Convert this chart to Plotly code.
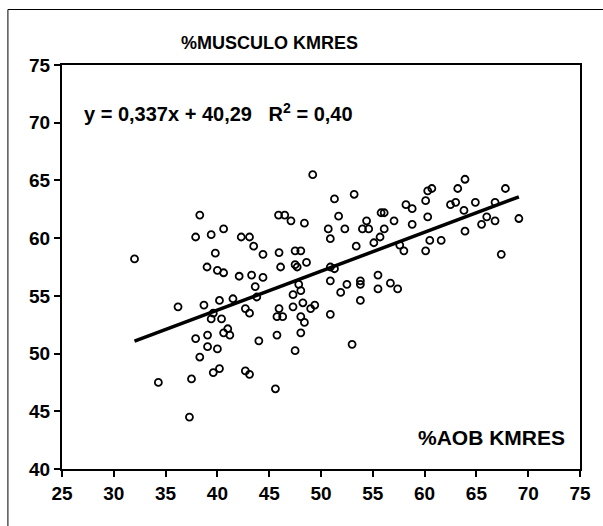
import plotly.graph_objects as go

# Data
aob = [38.3, 45.9, 46.5, 47.1, 40.6, 37.9, 39.4, 42.3, 43.1, 43.5, 44.4, 45.95, 47.5, 32.0, 39.8,
       39.0, 40.0, 40.6, 42.1, 43.3, 44.4, 46.1, 47.5, 49.2, 48.4, 51.3, 53.2, 51.7, 50.7, 52.3,
       50.9, 53.4, 54.4, 54.0, 54.6, 55.8, 56.1, 56.1, 57.05, 55.1, 55.7, 58.2, 58.8, 58.8, 60.1,
       60.3, 60.7, 60.3, 63.2, 63.9, 62.5, 63.0, 64.9, 63.8, 66.8, 67.8, 66.0, 65.5, 66.8, 69.1,
       63.9, 60.5, 61.6, 60.1, 57.6, 58.0, 67.4, 48.05, 47.7, 48.6, 50.9, 51.3, 43.65, 47.3, 47.3,
       36.2, 38.7, 40.2, 41.5, 43.8, 42.7, 43.1, 45.95, 45.75, 46.3, 39.4, 40.4, 39.6, 41.0, 40.6,
       41.2, 39.05, 37.9, 44.0, 45.75, 39.05, 40.0, 38.3, 40.2, 39.6, 42.7, 43.1, 37.5, 34.3, 45.6,
       37.3, 47.5, 47.85, 48.05, 48.25, 49.0, 49.4, 48.05, 48.4, 48.05, 50.9, 50.9, 52.5, 51.9, 53.8,
       53.8, 53.8, 55.5, 55.5, 56.7, 57.4, 53.0]
musculo = [62.0, 62.0, 62.0, 61.5, 60.8, 60.1, 60.3, 60.1, 60.1, 59.3, 58.6, 58.75, 58.9, 58.2, 58.7,
           57.5, 57.2, 57.0, 56.7, 56.8, 56.6, 57.5, 57.7, 65.5, 61.3, 63.4, 63.8, 61.9, 60.8, 60.8,
           59.95, 59.3, 61.5, 60.8, 60.8, 62.2, 62.2, 60.8, 61.5, 59.6, 60.1, 62.9, 62.55, 61.2, 63.25,
           64.1, 64.3, 61.85, 64.3, 65.1, 62.9, 63.1, 63.1, 62.4, 63.1, 64.3, 61.85, 61.2, 61.5, 61.7,
           60.6, 59.8, 59.8, 58.9, 59.4, 58.9, 58.6, 58.9, 57.5, 57.9, 57.5, 57.35, 55.8, 55.1, 54.05,
           54.05, 54.2, 54.6, 54.75, 54.9, 53.9, 53.5, 53.9, 53.2, 53.2, 53.0, 53.0, 53.5, 52.15, 51.8,
           51.6, 51.6, 51.3, 51.1, 51.6, 50.6, 50.4, 49.7, 48.7, 48.35, 48.5, 48.2, 47.8, 47.5, 46.95,
           44.5, 50.25, 56.0, 55.45, 54.4, 53.9, 54.2, 53.2, 52.7, 51.8, 56.3, 53.4, 56.0, 55.3, 56.3,
           56.0, 54.6, 56.8, 55.6, 56.1, 55.6, 50.8]

slope = 0.337
intercept = 40.29
x_ticks = [25, 30, 35, 40, 45, 50, 55, 60, 65, 70, 75]
y_ticks = [40, 45, 50, 55, 60, 65, 70, 75]
title_text = "%MUSCULO KMRES"
x_label = "%AOB KMRES"
eq_text = "y = 0,337x + 40,29   R<sup>2</sup> = 0,40"

FONT = "Liberation Sans, Arial, sans-serif"

fit_x = [min(aob), max(aob)]
fit_y = [slope * v + intercept for v in fit_x]

fig = go.Figure()
fig.add_trace(go.Scatter(
    x=aob, y=musculo, mode="markers",
    marker=dict(symbol="circle-open", size=7, color="black", line=dict(color="black", width=1.8)),
    showlegend=False, hoverinfo="skip"))
fig.add_trace(go.Scatter(
    x=fit_x, y=fit_y, mode="lines", line=dict(color="black", width=3.5),
    showlegend=False, hoverinfo="skip"))

axis_common = dict(
    showgrid=False, zeroline=False, showline=True, linecolor="black", linewidth=2,
    mirror=True, ticks="outside", ticklen=6, tickwidth=2, tickcolor="black",
    tickfont=dict(family=FONT, size=19, color="black", weight="bold"))

fig.update_xaxes(range=[25, 75], tickvals=x_ticks, ticktext=[str(v) for v in x_ticks], **axis_common)
fig.update_yaxes(range=[40, 75], tickvals=y_ticks, ticktext=[str(v) for v in y_ticks], **axis_common)

L, R, T, B = 62, 19, 65, 57
W, H = 603, 526
pw, ph = W - L - R, H - T - B

def px(xp):
    return (xp - L) / pw

def py(yp):
    return (H - B - yp) / ph

fig.update_layout(
    width=W, height=H, margin=dict(l=L, r=R, t=T, b=B),
    paper_bgcolor="white", plot_bgcolor="white",
    font=dict(family=FONT, color="black"),
    annotations=[
        dict(text=title_text, x=px(271), y=py(43), xref="paper", yref="paper",
             showarrow=False, xanchor="center", yanchor="middle",
             font=dict(family=FONT, size=18, color="black", weight="bold")),
        dict(text=eq_text, x=px(82), y=py(112), xref="paper", yref="paper",
             showarrow=False, xanchor="left", yanchor="middle",
             font=dict(family=FONT, size=20, color="black", weight="bold")),
        dict(text=x_label, x=px(571), y=py(437), xref="paper", yref="paper",
             showarrow=False, xanchor="right", yanchor="middle",
             font=dict(family=FONT, size=21, color="black", weight="bold")),
    ],
    shapes=[
        dict(type="line", xref="paper", yref="paper", x0=px(7.5), x1=px(640), y0=py(9.5), y1=py(9.5),
             line=dict(color="black", width=1)),
        dict(type="line", xref="paper", yref="paper", x0=px(7.5), x1=px(7.5), y0=py(9.5), y1=py(560),
             line=dict(color="black", width=1)),
    ],
)

fig.write_html("out.html")
